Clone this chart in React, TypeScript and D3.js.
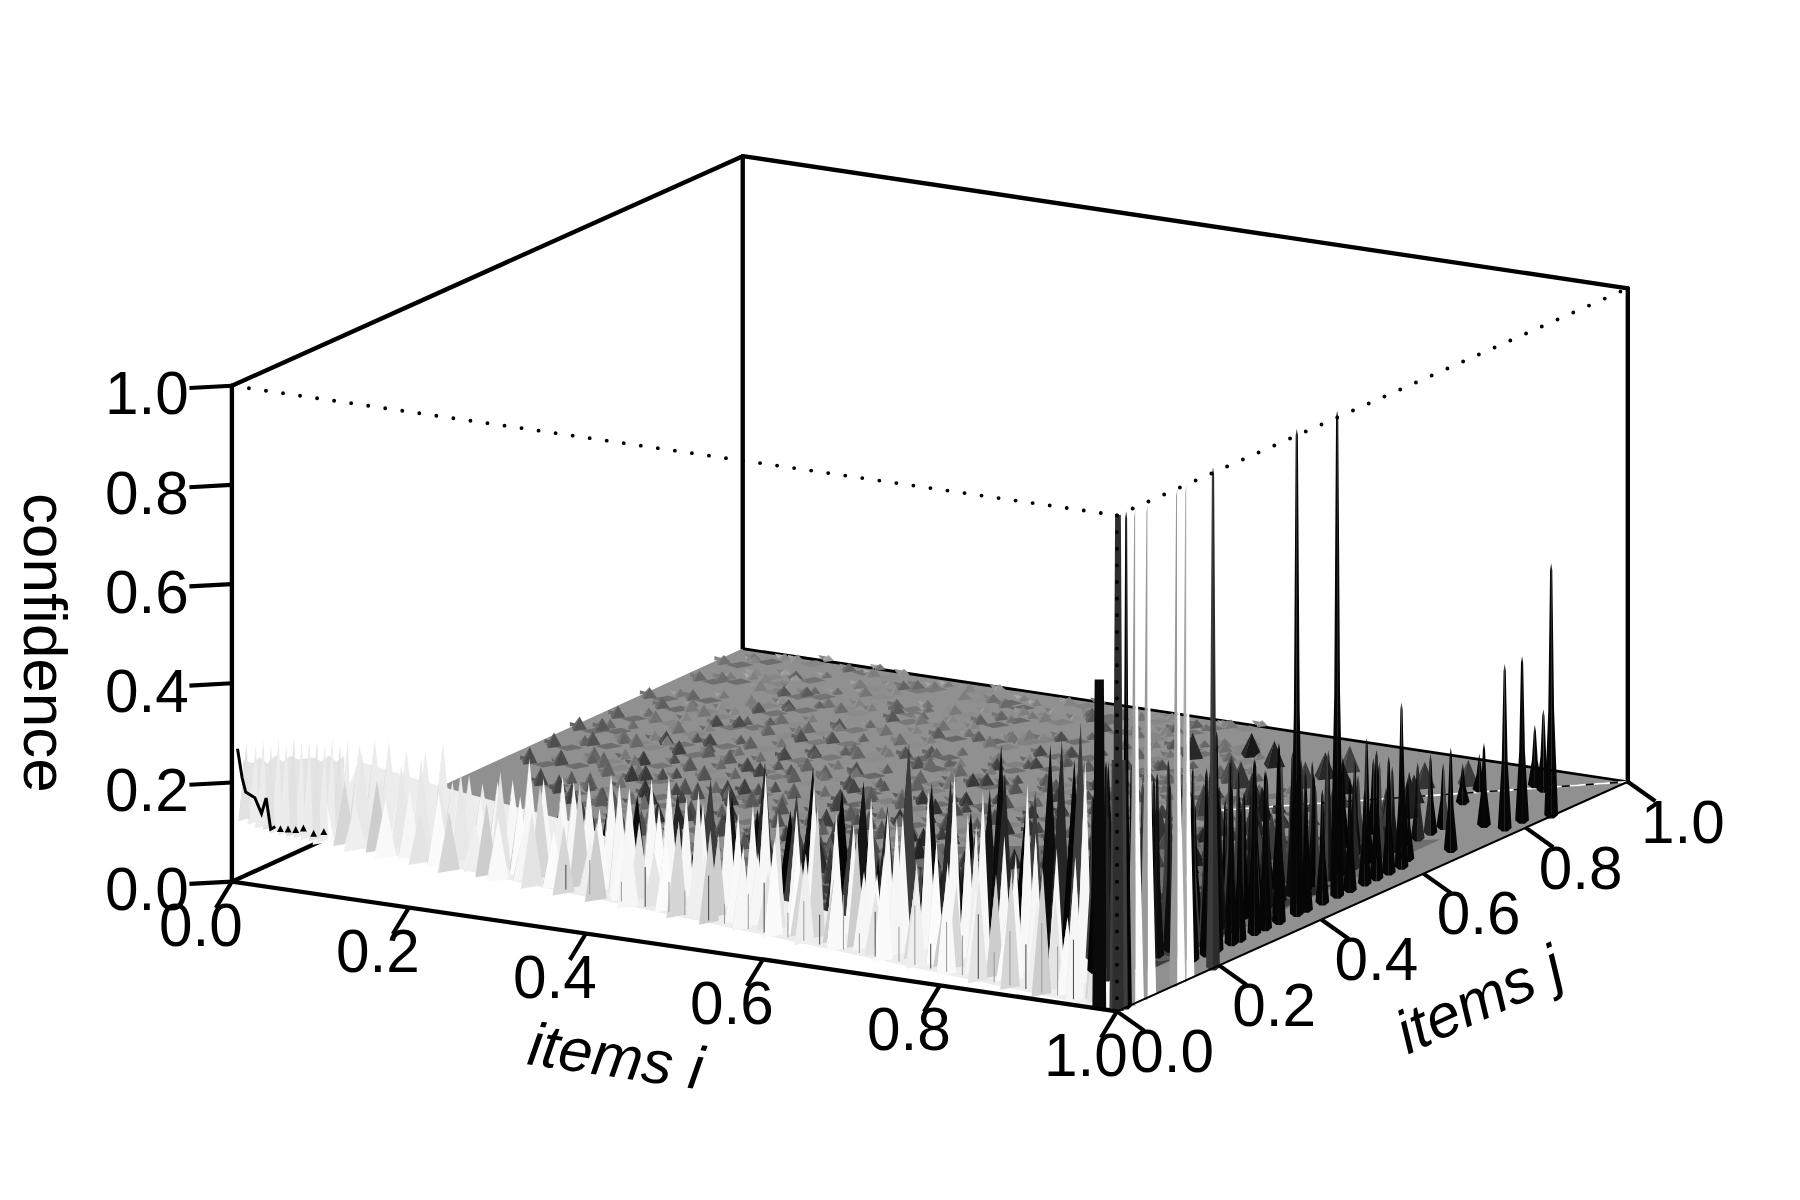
import React from "react";
import * as d3 from "d3";

// ---- axes ----
const axisTicks = [0, 0.2, 0.4, 0.6, 0.8, 1];
const tickLabels = ["0.0", "0.2", "0.4", "0.6", "0.8", "1.0"];

// ---- white ridge, back row: [i, z] (j follows the ridge edge) ----
const ridgeBackI = [0,.019,.037,.059,.083,.105,.117,.138,.155,.174,.193,.214,.232,.256,.27,.289,.317,.34,.368,.39,.412,.433,.465,.496,.512,.527,.551,.573,.601,.623,.645,.666,.685,.717,.75,.767,.786,.813,.842,.853,.879,.915];
const ridgeBackZ = [.16,.175,.18,.17,.175,.2,.125,.145,.135,.145,.155,.205,.172,.184,.178,.184,.21,.19,.218,.233,.196,.19,.23,.21,.283,.148,.218,.287,.228,.215,.276,.256,.256,.315,.362,.284,.337,.258,.372,.258,.254,.446];
// ---- ridge edge (j of the lowest mesh row) at i = 0, .02, .04 ... .98 ----
const ridgeEdgeJ = [.18,.186,.172,.18,.162,.175,.16,.162,.148,.164,.152,.14,.157,.137,.145,.13,.147,.124,.14,.117,.134,.122,.11,.13,.105,.122,.1,.114,.092,.11,.084,.104,.077,.094,.082,.064,.09,.06,.078,.05,.07,.042,.062,.036,.052,.028,.042,.024,.032,.017];
const ridgeFrontZ = [.1,.12,.09,.135,.11,.13,.095,.14,.115,.09,.14,.12,.1,.145,.11,.13,.1,.15,.12,.165,.1,.14,.17,.12,.18,.13,.16,.11,.19,.14,.175,.12,.2,.15,.12,.21,.14,.18,.13,.22,.16,.2,.13,.23,.17,.25,.15,.24,.19,.26];
const ridgeMidZ = [.15,.17,.13,.16,.18,.14,.17,.13,.19,.15,.18,.14,.2,.16,.22,.15,.19,.17,.24,.16,.21,.14,.23,.18,.26,.17,.22,.15,.27,.19,.24,.16,.29,.2,.25,.3,.18,.27,.22,.31,.24];
// ---- pale ground of the ridge ----
const ridgeFillI = [0,.1,.28,.42,.56,.7,.85,.98];
const ridgeFillZ = [.125,.11,.095,.03,.03,.02,.01,.01];
// ---- thin grey streaks on the lower ridge ----
const streakI = [.3,.33,.37,.4,.43,.45,.48,.5,.53,.55,.58,.6,.62,.65,.67,.69,.72,.74,.76,.78,.8,.82,.84,.86,.88,.9,.92,.94];
const streakZ = [.05,.07,.04,.08,.06,.05,.09,.04,.07,.1,.05,.08,.06,.11,.04,.09,.07,.12,.05,.1,.08,.13,.06,.11,.09,.14,.1,.12];

// ---- left wall at i = 0: j, top z, lower z ----
const wallJ = [.022,.04,.055,.07,.085,.1,.115,.13,.145,.16,.175,.19,.205,.22];
const wallTop = [.27,.255,.26,.24,.25,.23,.235,.22,.215,.21,.195,.2,.18,.185];
const wallBase = [.12,.105,.09,.08,.066,.055,.045,.035,.025,.015,.005,0,0,0];
const jagJ = [.011,.02,.027,.045,.058,.067,.076,.085];
const jagZ = [.263,.2,.168,.148,.11,.137,.07,.071];
const jagTickJ = [.095,.11,.125,.14,.16,.18];
const jagTickZ = [.06,.052,.044,.04,.02,.014];

// ---- dark spikes just behind the ridge ----
const darkI = [.2,.26,.31,.36,.4,.42,.44,.47,.49,.51,.53,.54,.56,.57,.59,.6,.62,.63,.65,.66,.68,.69,.71,.72,.74,.76,.77,.79,.8,.81,.83,.85,.86,.87,.88,.9,.91,.93,.95];
const darkJ = [.2,.195,.2,.17,.18,.19,.175,.165,.18,.16,.175,.17,.16,.15,.165,.155,.14,.145,.155,.14,.15,.13,.14,.125,.125,.13,.12,.115,.12,.11,.115,.1,.11,.095,.1,.09,.085,.08,.07];
const darkZ = [.13,.15,.14,.19,.2,.17,.24,.22,.19,.3,.2,.24,.22,.31,.2,.27,.22,.3,.21,.26,.24,.4,.32,.25,.34,.28,.24,.34,.43,.38,.3,.36,.28,.46,.47,.44,.52,.42,.46];

// ---- tall spikes along the i = 1 edge ----
const tallI = [1,1,1,1,1,1];
const tallJ = [.018,.036,.06,.118,.136,.188];
const tallZ = [1,.995,.993,.998,.998,1.01];
const tallW = [5,7.5,7.5,7,7,6];
const tallLeft = ["#050505","#9a9a9a","#9a9a9a","#9a9a9a","#a8a8a8","#3c3c3c"];
const tallRight = ["#050505","#ffffff","#ffffff","#ffffff","#ffffff","#2c2c2c"];
const barI = [.98,1,.995];
const barJ = [0,.002,.012];
const barZ = [.664,1,.5];
const barTop = [4,2.5,6];
const barBottom = [6,5,8];
const barFill = ["#0a0a0a","#2e2e2e","#3e3e3e"];

// ---- black spikes, front row near i = 1 ----
const frontI = [.967,.97,.97,.97,.97,.97,.97,.97,.97,.97,.97,.97,.97,.97,.97,.97,.97,.96,.98,.961,.985,.985,1,.929,.945,.89,.9];
const frontJ = [.205,.227,.247,.276,.292,.321,.342,.369,.404,.422,.454,.483,.508,.537,.56,.584,.609,.638,.688,.786,.785,.819,.85,.941,.93,.9,.85];
const frontZ = [.336,.373,.444,.32,.29,.354,.32,.363,.98,.248,.23,.98,.23,.19,.26,.236,.333,.162,.208,.167,.333,.333,.51,.123,.164,.074,.08];

// ---- black spikes, further rows ----
const secondJ = [.1,.13,.15,.175,.2,.225,.25,.27,.295,.32,.345,.37,.39,.415,.44,.465,.49,.51,.535,.56,.585,.61,.635,.66,.68,.71,.735,.76];
const secondZ = [.44,.38,.41,.3,.37,.34,.28,.35,.3,.27,.33,.25,.3,.26,.22,.29,.24,.2,.26,.21,.18,.25,.19,.17,.21,.155,.16,.13];
const thirdJ = [.16,.19,.22,.25,.28,.305,.33,.36,.39,.42,.445,.47,.5,.53,.56,.59,.62,.65,.68,.71,.74];
const thirdZ = [.33,.28,.36,.26,.31,.24,.3,.22,.27,.2,.25,.19,.22,.23,.17,.2,.15,.18,.13,.15,.11];
const fourthJ = [.12,.145,.17,.195,.215,.24,.265,.29,.315,.34,.365,.385,.41,.435,.455,.48,.505,.525,.55,.575,.6,.63];
const fourthZ = [.36,.31,.4,.29,.34,.27,.36,.3,.24,.31,.26,.3,.21,.28,.23,.26,.19,.24,.2,.22,.16,.19];

// ---- larger cones in the far corner ----
const rearI = [.585,.661,.631,.68,.67,.735,.735,.743,.779,.837,.856,.87,.72,.8,.76,.83,.88,.7,.78,.86,.81,.75,.9,.84,.79,.86,.9,.72];
const rearJ = [.867,.811,.903,.797,.88,.828,.867,.901,.828,.885,.831,.913,.75,.78,.7,.72,.78,.69,.65,.66,.6,.63,.7,.58,.55,.52,.6,.57];
const rearZ = [.05,.05,.045,.05,.05,.05,.05,.05,.055,.05,.055,.05,.06,.07,.065,.08,.09,.06,.08,.09,.085,.07,.1,.09,.08,.1,.1,.07];

// ---- small cones on the floor, one list of i per row of j ----
const floorJ = [.97,.935,.9,.865,.83,.795,.76,.725,.69,.655,.62,.585,.55,.515,.48,.445,.41,.375,.34,.31,.28,.25,.225,.2];
const floorZ = [.014,.015,.016,.017,.018,.019,.02,.021,.022,.024,.025,.026,.028,.03,.032,.034,.038,.042,.048,.056,.07,.09,.11,.13];
const floorTone = [104,100,96,92,88,86,82,78,76,72,70,66,64,62,58,56,54,50,48,46,44,40,36,32];
const floorShift = [0,.011,-.009,.016,-.014,.005,.013,-.004,-.017,.008];
const floorI = [
  [.03,.07,.13,.16,.22,.27,.31,.38,.42,.47,.53,.56],
  [.01,.06,.1,.17,.21,.28,.33,.36,.43,.49,.52,.59],
  [.04,.08,.14,.19,.24,.3,.35,.39,.46,.5,.55,.6],
  [.02,.09,.12,.18,.25,.29,.34,.41,.44,.51,.57,.62],
  [.05,.11,.15,.2,.26,.32,.37,.4,.48,.54,.58,.64],
  [.01,.07,.13,.17,.23,.28,.33,.39,.45,.49,.55,.61,.66,.71],
  [.04,.09,.14,.21,.25,.31,.36,.43,.47,.52,.59,.63,.68],
  [.02,.06,.12,.18,.22,.29,.34,.38,.44,.51,.56,.6,.65,.7,.76],
  [.03,.1,.15,.19,.26,.3,.37,.42,.46,.53,.57,.62,.69,.73,.79],
  [.01,.07,.11,.17,.24,.28,.33,.4,.45,.5,.55,.61,.67,.71,.77,.83],
  [.05,.09,.14,.2,.23,.31,.35,.41,.48,.52,.58,.64,.68,.74,.8,.85],
  [.02,.08,.13,.18,.25,.29,.36,.39,.44,.49,.56,.6,.66,.72,.75,.82,.88],
  [.06,.1,.16,.21,.27,.32,.37,.43,.47,.54,.59,.63,.69,.73,.78,.84,.9],
  [.03,.12,.15,.22,.26,.3,.38,.41,.46,.51,.57,.62,.67,.74,.79,.83,.89],
  [.08,.13,.19,.24,.28,.34,.4,.44,.5,.53,.6,.65,.7,.76,.8,.86,.91],
  [.11,.17,.21,.27,.31,.36,.42,.47,.52,.56,.61,.68,.72,.78,.83,.87,.92],
  [.14,.19,.25,.29,.33,.39,.45,.49,.54,.59,.64,.69,.75,.79,.85,.9],
  [.18,.22,.28,.33,.37,.43,.47,.52,.57,.62,.66,.71,.77,.82,.86,.92],
  [.22,.26,.31,.35,.4,.46,.5,.55,.6,.64,.7,.74,.79,.84,.89,.93],
  [.31,.36,.39,.44,.48,.53,.58,.62,.67,.72,.76,.81,.86,.9],
  [.35,.4,.46,.51,.55,.6,.65,.69,.74,.78,.83,.87,.92],
  [.45,.49,.54,.58,.63,.67,.72,.76,.8,.85,.89,.93],
  [.52,.57,.61,.66,.7,.75,.79,.83,.87,.91],
  [.58,.62,.67,.71,.76,.8,.84,.88,.92],
];

// ---- darker ground under the spikes: [i, j] corners ----
const shadowOuterI = [.34,.52,.8,.95,.95,.34];
const shadowOuterJ = [.28,.44,.62,.72,.05,.14];
const shadowInnerI = [.42,.6,.85,.945,.95,.42];
const shadowInnerJ = [.24,.3,.46,.52,.05,.12];

// ---- diagonal trace i = j ----
const diagonal = [.7, 1];
const toneCycle = [0, 24, -16, 12, -8, 20];
const lightCycle = ["#f6f6f6", "#e4e4e4", "#fbfbfb", "#d6d6d6", "#efefef", "#cdcdcd", "#f9f9f9"];
const darkCycle = ["#0c0c0c", "#262626", "#050505", "#3c3c3c", "#141414"];

const VW = 1568, VH = 1045.33;
const ix = d3.scaleLinear().domain([0, 1]).range([0, 771]);
const jx = d3.scaleLinear().domain([0, 1]).range([0, 445]);
const iy = d3.scaleLinear().domain([0, 1]).range([0, 113]);
const jy = d3.scaleLinear().domain([0, 1]).range([0, -203]);
const zy = d3.scaleLinear().domain([0, 1]).range([0, -432]);
const toneByI = d3.scaleLinear().domain([0, .5, 1]).range([14, 0, -32]);
const P = (i: number, j: number, z = 0): [number, number] => [202 + ix(i) + jx(j), 768 + iy(i) + jy(j) + zy(z) + 3 * i * j];
const poly = (pts: [number, number][]) => d3.line()(pts)! + "Z";

type Mark = { d: number; paths: { p: string; f: string }[] };

function pyramid(i: number, j: number, z: number, fi: number, fj: number, l: string, r: string, z0 = 0): Mark {
  const a = P(i, j, z), pl = P(i - fi, j, z0), pf = P(i, j - fj, z0), pr = P(i + fi, j, z0);
  return { d: i - j, paths: [{ p: poly([pl, pf, a]), f: l }, { p: poly([pf, pr, a]), f: r }] };
}
function needle(i: number, j: number, z: number, w: number, l: string, r: string): Mark {
  const [x, y] = P(i, j), [, t] = P(i, j, z), m = y + (t - y) * 0.42, w2 = w * 0.42, tip = Math.min(1, w * 0.16);
  return {
    d: i - j,
    paths: [
      { p: poly([[x, t], [x - tip, t + 6], [x - w2, m], [x - w, y - 1], [x - w * 0.4, y + 2], [x, y + 2]]), f: l },
      { p: poly([[x, t], [x, y + 2], [x + w * 0.4, y + 2], [x + w, y - 1], [x + w2, m], [x + tip, t + 6]]), f: r },
    ],
  };
}
const gray = (v: number) => { const c = Math.max(0, Math.min(255, Math.round(v))); return `rgb(${c},${c},${c})`; };

const flecks: Mark[] = [];
const rearMarks: Mark[] = [];
floorI.forEach((row, r) => {
  row.forEach((i, k) => {
    const j = floorJ[r] + floorShift[(k * 3 + r) % floorShift.length], z = floorZ[r], tone = floorTone[r] + toneByI(i);
    const t = tone + toneCycle[k % toneCycle.length];
    const a = P(i + .014, j + .012), b = P(i + .03, j + .006), c = P(i + .022, j - .012), e = P(i + .006, j - .006);
    flecks.push({ d: 0, paths: [{ p: poly([a, b, c, e]), f: gray(116 + toneCycle[(k + 2) % 6] * 0.9 + toneByI(i) * .6) }] });
    const a2 = P(i - .02, j + .016), b2 = P(i - .006, j + .012), c2 = P(i - .012, j + .002);
    flecks.push({ d: 0, paths: [{ p: poly([a2, b2, c2]), f: gray(tone + 26 + toneCycle[(k + 4) % 6]) }] });
    const a3 = P(i + .006, j + .03), b3 = P(i + .022, j + .028), c3 = P(i + .018, j + .016);
    flecks.push({ d: 0, paths: [{ p: poly([a3, b3, c3]), f: gray(tone + 36 + toneCycle[(k + 1) % 6]) }] });
    rearMarks.push(pyramid(i, j, z, .0085, .012, gray(t + 16), gray(t), 0));
    rearMarks.push(pyramid(i + .024, j + .019, z * .72, .0065, .009, gray(t + 34), gray(t + 18), 0));
  });
});
rearI.forEach((i, k) => rearMarks.push(pyramid(i, rearJ[k], rearZ[k], .012, .014, gray(56 + toneCycle[k % 6]), gray(40 + toneCycle[k % 6]))));
darkI.forEach((i, k) => rearMarks.push(pyramid(i, darkJ[k], darkZ[k], .012, .03, darkCycle[k % 5], darkCycle[(k + 2) % 5])));
rearMarks.sort((a, b) => a.d - b.d);

const ridgeMarks: Mark[] = [];
const narrow = (i: number, wide: number, thin: number) => (i > .4 ? thin : wide);
ridgeBackI.forEach((i, k) => {
  const j = .18 * (1 - i) + .07;
  ridgeMarks.push(pyramid(i, j, ridgeBackZ[k], narrow(i, .0115, .0088), .018, i < .16 ? "#dadada" : lightCycle[(k + 1) % 7], i < .16 ? "#ececec" : "#f7f7f7"));
});
ridgeMidZ.forEach((z, k) => {
  const i = k * 0.025, j = .18 * (1 - i) + .035;
  ridgeMarks.push(pyramid(i, j, z, narrow(i, .012, .0085), .02, lightCycle[(k + 3) % 7], i < .16 ? "#e8e8e8" : lightCycle[k % 7]));
});
ridgeEdgeJ.forEach((j, k) => {
  const i = k * 0.02;
  ridgeMarks.push(pyramid(i, j, ridgeFrontZ[k], narrow(i, .012, .0095), .022, lightCycle[(k + 5) % 7], lightCycle[(k + 2) % 7]));
});
wallJ.forEach((j, k) => ridgeMarks.push(pyramid(0.004, j, wallTop[k], .004, .016, k % 2 ? "#e0e0e0" : "#d2d2d2", k % 3 ? "#ececec" : "#e2e2e2", wallBase[k])));
ridgeMarks.sort((a, b) => a.d - b.d);

const forest: Mark[] = [];
fourthJ.forEach((j, k) => forest.push(needle(.905, j, fourthZ[k], 6, darkCycle[(k + 2) % 5], darkCycle[(k + 4) % 5])));
secondJ.forEach((j, k) => forest.push(needle(.93, j, secondZ[k], 6, darkCycle[k % 5], darkCycle[(k + 1) % 5])));
thirdJ.forEach((j, k) => forest.push(needle(.88, j, thirdZ[k], 6, darkCycle[(k + 3) % 5], darkCycle[k % 5])));
frontJ.forEach((j, k) => forest.push(needle(frontI[k], j, frontZ[k], 6, "#060606", "#060606")));
tallJ.forEach((j, k) => forest.push(needle(tallI[k], j, tallZ[k], tallW[k], tallLeft[k], tallRight[k])));
barJ.forEach((j, k) => {
  const i = barI[k], [x, y] = P(i, j), [, t] = P(i, j, barZ[k]);
  forest.push({ d: i - j, paths: [{ p: poly([[x - barTop[k], t], [x + barTop[k], t], [x + barBottom[k], y], [x - barBottom[k], y]]), f: barFill[k] }] });
});
forest.sort((a, b) => a.d - b.d);

const A = P(0, 0), B = P(1, 0), C = P(1, 1), D = P(0, 1);
const At = P(0, 0, 1), Bt = P(1, 0, 1), Ct = P(1, 1, .995), Dt = P(0, 1, .993);
const seg = (a: [number, number], b: [number, number]) => d3.line()([a, b])!;
const floorPoly = poly([P(0, .4), D, C, B, P(.97, .012)]);
const jag = d3.line()(jagJ.map((j, k) => P(0, j, jagZ[k])))!;
const ridgeFill = poly([
  ...ridgeFillI.map((i, k) => P(i, .18 * (1 - i) + .07, ridgeFillZ[k])),
  ...ridgeFillI.slice().reverse().map((i) => P(i, .18 * (1 - i) + .0)),
]);
const wallFill = poly([
  ...wallJ.map((j, k) => P(0, j, wallTop[k] - .035)),
  ...wallJ.slice().reverse().map((j, k) => P(0, j, wallBase[wallJ.length - 1 - k] + .01)),
]);
const shadowOuter = poly(shadowOuterI.map((i, k) => P(i, shadowOuterJ[k])));
const shadowInner = poly(shadowInnerI.map((i, k) => P(i, shadowInnerJ[k])));

const draw = (list: Mark[], key: string) => list.map((m, k) => m.paths.map((q, n) => <path key={`${key}${k}-${n}`} d={q.p} fill={q.f} />));

export default function App() {
  const font = "'Liberation Sans', Arial, Helvetica, sans-serif";
  return (
    <svg width={1800} height={1200} viewBox={`0 0 ${VW} ${VH}`} style={{ position: "absolute", left: 0, top: 0, background: "#fff" }} fontFamily={font} fill="#000">
      <g stroke="#000" strokeWidth={3.8} fill="none" strokeLinecap="round">
        <path d={seg(At, A)} />
        <path d={seg(At, Dt)} />
        <path d={seg(Dt, Ct)} />
        <path d={seg(Ct, C)} />
        <path d={seg(Dt, D)} />
        <path d={seg(A, P(0, .4))} />
      </g>
      <path d={floorPoly} fill="#909090" />
      <path d={shadowOuter} fill="#6e6e6e" />
      <path d={shadowInner} fill="#3c3c3c" />
      <path d={seg(D, C)} stroke="#000" strokeWidth={2.4} />
      {draw(flecks, "f")}
      <path d={seg(P(diagonal[0], diagonal[0]), P(diagonal[1], diagonal[1]))} stroke="#000" strokeWidth={1.2} />
      <path d={seg(P(diagonal[0], diagonal[0]), P(diagonal[1], diagonal[1]))} stroke="#fff" strokeWidth={1.6} strokeDasharray="14 7" />
      {draw(rearMarks, "r")}
      <path d={ridgeFill} fill="#ededed" />
      <path d={wallFill} fill="#e4e4e4" />
      {draw(ridgeMarks, "w")}
      {streakI.map((i, k) => {
        const j = .18 * (1 - i) + .008;
        return <path key={k} d={seg(P(i, j), P(i, j, streakZ[k]))} stroke={k % 3 ? "#9c9c9c" : "#4a4a4a"} strokeWidth={.9} />;
      })}
      <path d={jag} fill="none" stroke="#000" strokeWidth={2.6} />
      {jagTickJ.map((j, k) => {
        const p = P(0, j, jagTickZ[k]);
        return <path key={k} d={poly([[p[0] - 3, p[1] + 2], [p[0] + 3, p[1] + 2], [p[0], p[1] - 4]])} fill="#000" />;
      })}
      {draw(forest, "b")}
      <g stroke="#000" fill="none" strokeLinecap="round">
        <path d={seg(A, B)} strokeWidth={3.8} />
        <path d={seg(B, C)} strokeWidth={1.8} />
        <path d={seg(At, Bt)} strokeWidth={3.4} strokeDasharray="0 15" />
        <path d={seg(Bt, Ct)} strokeWidth={3.4} strokeDasharray="0 15" />
        <path d={seg(Bt, B)} strokeWidth={3.4} strokeDasharray="0 14.5" />
      </g>
      {axisTicks.map((t, k) => {
        const z = P(0, 0, t), a = P(t, 0), b = P(1, t);
        return (
          <g key={k}>
            <path d={seg(z, [z[0] - 37, z[1] + 2])} stroke="#000" strokeWidth={3.6} />
            <path d={seg(a, [a[0] - 14, a[1] + 23])} stroke="#000" strokeWidth={3.6} />
            <path d={seg(b, [b[0] + 24, b[1] + 17])} stroke="#000" strokeWidth={3.6} />
            <text x={z[0] - 74} y={z[1] + 25} fontSize={52.5} textAnchor="middle">{tickLabels[k]}</text>
            <text x={a[0] - 27} y={a[1] + 56} fontSize={52.5} textAnchor="middle">{tickLabels[k]}</text>
            <text x={b[0] + 48} y={b[1] + 53} fontSize={52.5} textAnchor="middle">{tickLabels[k]}</text>
          </g>
        );
      })}
      <text transform="translate(21,560) rotate(90)" fontSize={54} textAnchor="middle">confidence</text>
      <text transform="translate(534,938) rotate(8.3)" fontSize={53} fontStyle="italic" textAnchor="middle">items i</text>
      <text transform="translate(1296,887) rotate(-24.5)" fontSize={53} fontStyle="italic" textAnchor="middle">items j</text>
    </svg>
  );
}
